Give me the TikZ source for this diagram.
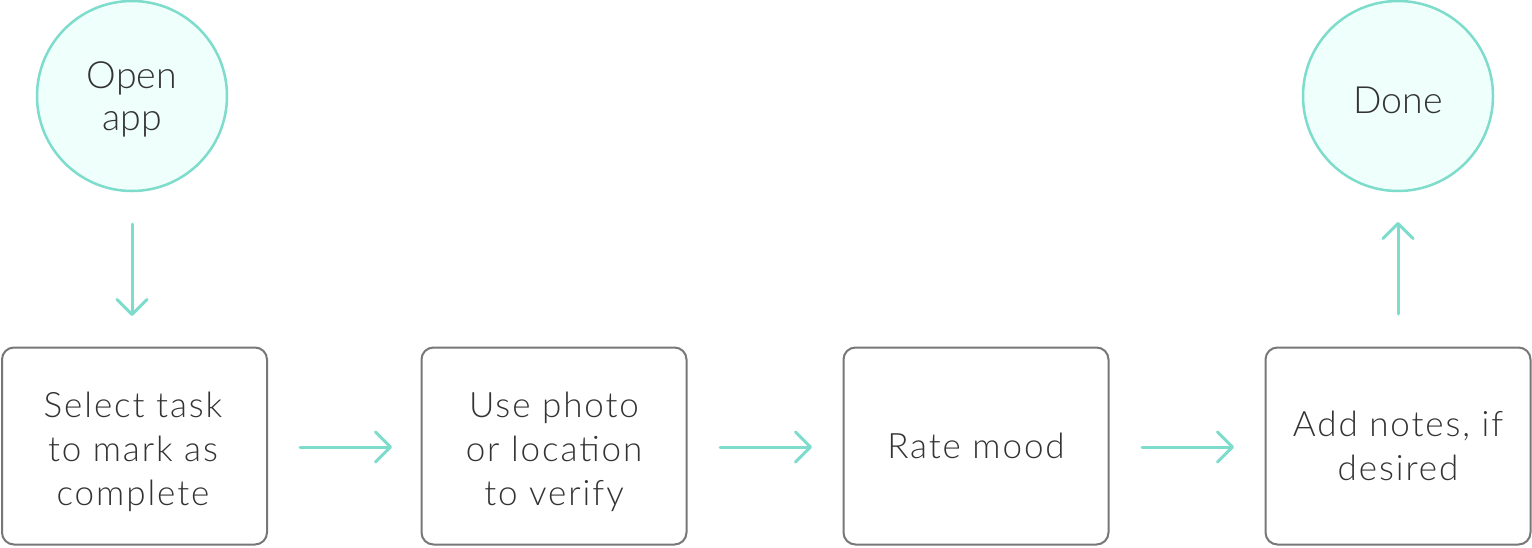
\documentclass[tikz,border=0pt]{standalone}
\usepackage{fontspec}
\setmainfont{Lato Light}
\newfontfamily\boxfont{Lato Light}[LetterSpace=5.5]
\usetikzlibrary{arrows.meta}
\definecolor{teal}{HTML}{7DDCCB}
\definecolor{tealfill}{HTML}{EFFFFB}
\definecolor{boxline}{HTML}{777777}
\definecolor{txt}{HTML}{333333}
\tikzset{
  circtext/.style={inner sep=0pt, anchor=base, align=center, text=txt, font=\fontsize{37.5}{42}\selectfont},
  boxtext/.style={inner sep=0pt, anchor=base, align=center, text=txt, font=\boxfont\fontsize{35}{44}\selectfont},
  circ/.style={circle, draw=teal, line width=2.5pt, fill=tealfill, minimum size=190pt, inner sep=0pt},
  stepbox/.style={draw=boxline, line width=2pt, rounded corners=12pt, minimum width=265pt, minimum height=197pt, inner sep=0pt},
  flow/.style={draw=teal, line width=3pt, line cap=round, -{Straight Barb[length=15pt, width=30pt, line cap=round, line join=round]}}
}
\begin{document}
\begin{tikzpicture}[x=1pt,y=-1pt]
\useasboundingbox (0,0) rectangle (1532,547);
\node[circ] (open) at (132,96) {};
\node[circ] (done) at (1398,96) {};
\node[stepbox] (s1) at (134.5,446) {};
\node[stepbox] (s2) at (554,446) {};
\node[stepbox] (s3) at (976,446) {};
\node[stepbox] (s4) at (1398,446) {};
\node[circtext] (open t) at (132,130.5) {Open\\app};
\node[circtext] (done t) at (1398,113.3) {Done};
\node[boxtext] (s1 t) at (133,505) {Select task\\to mark as\\complete};
\node[boxtext] (s2 t) at (554,505) {Use photo\\or location\\to verify};
\node[boxtext] (s3 t) at (976,458.3) {Rate mood};
\node[boxtext] (s4 t) at (1398,480) {Add notes, if\\desired};
\coordinate (a1s) at (132,224); \coordinate (a1e) at (132,316);
\coordinate (a2s) at (300,447); \coordinate (a2e) at (392,447);
\coordinate (a3s) at (720,447); \coordinate (a3e) at (812,447);
\coordinate (a4s) at (1142,447); \coordinate (a4e) at (1234,447);
\coordinate (a5s) at (1398,314); \coordinate (a5e) at (1398,222);
\draw[flow] (a1s) -- (a1e);
\draw[flow] (a2s) -- (a2e);
\draw[flow] (a3s) -- (a3e);
\draw[flow] (a4s) -- (a4e);
\draw[flow] (a5s) -- (a5e);
\end{tikzpicture}
\end{document}
